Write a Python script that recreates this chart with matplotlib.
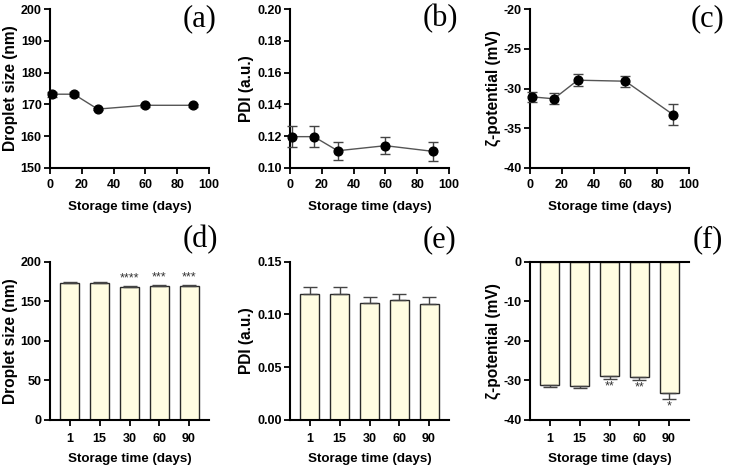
import matplotlib
matplotlib.use("Agg")
import matplotlib.pyplot as plt
import numpy as np

plt.rcParams['font.family'] = ['Liberation Sans', 'DejaVu Sans']
plt.rcParams['font.weight'] = 'bold'

days = [1, 15, 30, 60, 90]
day_labels = ['1', '15', '30', '60', '90']

size_mean = [173.2, 173.2, 168.5, 169.7, 169.7]
size_err = [0.8, 0.7, 0.3, 0.5, 0.5]
pdi_mean = [0.1196, 0.1196, 0.1107, 0.1139, 0.1103]
pdi_err = [0.0068, 0.0068, 0.0058, 0.0052, 0.0062]
zeta_mean = [-31.05, -31.3, -28.95, -29.08, -33.3]
zeta_err = [0.65, 0.7, 0.74, 0.7, 1.33]

size_stars = ['', '', '****', '***', '***']
zeta_stars = ['', '', '**', '**', '*']

W, H = 729, 467
fig = plt.figure(figsize=(W / 100, H / 100), dpi=100)

def ax_at(left, top, right, bottom):
    return fig.add_axes([left / W, 1 - bottom / H, (right - left) / W, (bottom - top) / H])

lefts = [50, 290, 530]
axes_top = [ax_at(l, 9.3, l + 159, 167.7) for l in lefts]
axes_bot = [ax_at(l, 261.7, l + 159, 420) for l in lefts]

TICK_FS = 9
XL_FS = 9.6
YL_FS = 11.2
BAR_COLOR = '#FFFDE2'
EDGE = '#2a2a2a'

def style(ax):
    for s in ['top', 'right']:
        ax.spines[s].set_visible(False)
    for s in ['left', 'bottom']:
        ax.spines[s].set_linewidth(1.5)
        ax.spines[s].set_color('black')
    ax.tick_params(direction='out', length=4, width=1.3, labelsize=TICK_FS, pad=2)
    for lab in ax.get_xticklabels() + ax.get_yticklabels():
        lab.set_fontweight('bold')

ylabels = ['Droplet size (nm)', 'PDI (a.u.)', 'ζ-potential (mV)']
means = [size_mean, pdi_mean, zeta_mean]
errs = [size_err, pdi_err, zeta_err]
top_ylims = [(150, 200), (0.10, 0.20), (-40, -20)]
top_yticks = [np.arange(150, 201, 10), np.arange(0.10, 0.201, 0.02), np.arange(-40, -19, 5)]
top_fmt = ['{:.0f}', '{:.2f}', '{:.0f}']

for i, ax in enumerate(axes_top):
    ax.errorbar(days, means[i], yerr=errs[i], color='#555555', lw=1.0,
                ecolor='#444444', elinewidth=1.0, capsize=3.5, capthick=1.0,
                marker='o', markersize=6.3, markerfacecolor='black',
                markeredgecolor='black', zorder=3, clip_on=False)
    ax.set_xlim(0, 100)
    ax.set_xticks(np.arange(0, 101, 20))
    ax.set_ylim(*top_ylims[i])
    ax.set_yticks(top_yticks[i])
    ax.set_yticklabels([top_fmt[i].format(v) for v in top_yticks[i]])
    ax.set_xlabel('Storage time (days)', fontsize=XL_FS, fontweight='bold', labelpad=7)
    ax.set_ylabel(ylabels[i], fontsize=YL_FS, fontweight='bold', labelpad=2)
    style(ax)
    ax.tick_params(axis='x', pad=4)

bot_ylims = [(0, 200), (0, 0.15), (-40, 0)]
bot_yticks = [np.arange(0, 201, 50), np.arange(0, 0.151, 0.05), np.arange(-40, 1, 10)]
bot_fmt = ['{:.0f}', '{:.2f}', '{:.0f}']
pos = np.arange(len(days))

for i, ax in enumerate(axes_bot):
    m = np.array(means[i])
    e = np.array(errs[i])
    ax.bar(pos, m, width=0.64, color=BAR_COLOR, edgecolor=EDGE, linewidth=1.0, zorder=2)
    if i == 2:
        lower = e
        upper = np.zeros_like(e)
    else:
        lower = np.zeros_like(e)
        upper = e
    ax.errorbar(pos, m, yerr=[lower, upper], fmt='none', ecolor='#444444',
                elinewidth=1.0, capsize=5, capthick=1.0, zorder=3)
    ax.set_xlim(-0.67, 4.67)
    ax.set_xticks(pos)
    ax.set_xticklabels(day_labels)
    ax.set_ylim(*bot_ylims[i])
    ax.set_yticks(bot_yticks[i])
    ax.set_yticklabels([bot_fmt[i].format(v) for v in bot_yticks[i]])
    ax.set_xlabel('Storage time (days)', fontsize=XL_FS, fontweight='bold', labelpad=6)
    ax.set_ylabel(ylabels[i], fontsize=YL_FS, fontweight='bold', labelpad=2)
    style(ax)
    ax.tick_params(axis='x', pad=5)
    if i == 2:
        ax.spines['top'].set_visible(True)
        ax.spines['top'].set_linewidth(1.5)

# significance stars
for p, v, er, s in zip(pos, size_mean, size_err, size_stars):
    if s:
        axes_bot[0].annotate(s, (p, v + er), xytext=(0, 1.5), textcoords='offset points',
                             ha='center', va='bottom', fontsize=9, fontweight='normal',
                             color='#333333')
for p, v, er, s in zip(pos, zeta_mean, zeta_err, zeta_stars):
    if s:
        axes_bot[2].annotate(s, (p, v - er), xytext=(0, -1), textcoords='offset points',
                             ha='center', va='top', fontsize=9, fontweight='normal',
                             color='#333333')

letters = ['(a)', '(b)', '(c)', '(d)', '(e)', '(f)']
letter_pos = [(200, 19), (440, 19), (708, 19), (200, 240), (440, 240), (708, 240)]
for t, (x, y) in zip(letters, letter_pos):
    fig.text(x / W, 1 - y / H, t, ha='center', va='center', fontsize=22,
             fontweight='normal', family=['Liberation Serif', 'DejaVu Serif'])

fig.savefig('out.png', dpi=100, facecolor='white')
